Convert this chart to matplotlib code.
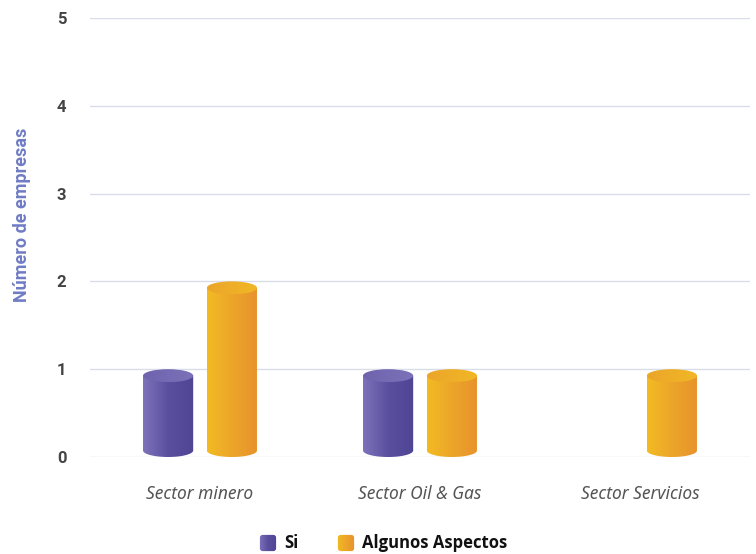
import numpy as np
import matplotlib.pyplot as plt
from matplotlib.patches import Ellipse, PathPatch, FancyBboxPatch
from matplotlib.path import Path
from matplotlib.colors import LinearSegmentedColormap

categories = ["Sector minero", "Sector Oil & Gas", "Sector Servicios"]
series_names = ["Si", "Algunos Aspectos"]
si = [1, 1, 0]
algunos = [2, 1, 1]
yticks = [0, 1, 2, 3, 4, 5]

purple = LinearSegmentedColormap.from_list("p", ["#7d72ba", "#5a4f9e", "#4f4595"])
orange = LinearSegmentedColormap.from_list("o", ["#f3bb22", "#eca52a", "#e8922c"])
purple_top = LinearSegmentedColormap.from_list("pt", ["#6e63ad", "#7c72b9"])
orange_top = LinearSegmentedColormap.from_list("ot", ["#eba52a", "#f1b826"])

fig = plt.figure(figsize=(7.56, 5.54), dpi=100)
W, H = 756, 554
ax = fig.add_axes([90 / W, (H - 457) / H, 660 / W, 439 / H])
ax.set_xlim(0, 3)
ax.set_ylim(0, 5)

for s in ax.spines.values():
    s.set_visible(False)
ax.set_yticks(yticks)
ax.tick_params(axis="y", length=0, pad=17, labelsize=12, labelcolor="#444444")
for t in ax.get_yticklabels():
    t.set_fontfamily("Roboto")
    t.set_fontweight("bold")
ax.set_xticks([0.5, 1.5, 2.5])
ax.set_xticklabels(categories, fontsize=12.5, style="italic", color="#555555",
                   family="Noto Sans", fontweight="medium")
ax.tick_params(axis="x", length=0, pad=20)
ax.grid(axis="y", color="#d9dde9", linewidth=1)
ax.set_axisbelow(True)

bw = 0.228
off = 0.145
ry = 0.074
grad = np.linspace(0, 1, 256).reshape(1, -1)


def cylinder(xc, val, cmap, cmap_top):
    if val <= 0:
        return
    x0, x1 = xc - bw / 2, xc + bw / 2
    y0, y1 = ry, val - ry
    t = np.linspace(np.pi, 2 * np.pi, 60)
    bottom = np.column_stack([xc + bw / 2 * np.cos(t), y0 + ry * np.sin(t)])
    verts = np.vstack([[x0, y1], bottom, [x1, y1], [x0, y1]])
    body = PathPatch(Path(verts), facecolor="none", edgecolor="none")
    ax.add_patch(body)
    im = ax.imshow(grad, cmap=cmap, extent=[x0, x1, 0, y1], aspect="auto",
                   zorder=3)
    im.set_clip_path(body)
    top = Ellipse((xc, y1), bw, 2 * ry, facecolor="none", edgecolor="none")
    ax.add_patch(top)
    im2 = ax.imshow(grad, cmap=cmap_top, extent=[x0, x1, y1 - ry, y1 + ry],
                    aspect="auto", zorder=4)
    im2.set_clip_path(top)


for i in range(len(categories)):
    cylinder(i + 0.5 - off, si[i], purple, purple_top)
    cylinder(i + 0.5 + off, algunos[i], orange, orange_top)

ax.set_xlim(0, 3)
ax.set_ylim(0, 5)

fig.text(22 / W, 1 - 215 / H, "Número de empresas", rotation=90,
         ha="center", va="center", fontsize=13, fontweight="bold",
         color="#6f7cc4", family="Roboto")

# legend
for x, cmap, label in [(259, purple, series_names[0]), (337, orange, series_names[1])]:
    lax = fig.add_axes([x / W, (H - 552) / H, 18 / W, 18 / H])
    lax.set_axis_off()
    lax.set_xlim(0, 1)
    lax.set_ylim(0, 1)
    box = FancyBboxPatch((0.05, 0.05), 0.9, 0.9, boxstyle="round,pad=0,rounding_size=0.15",
                         facecolor="none", edgecolor="none")
    lax.add_patch(box)
    im = lax.imshow(grad, cmap=cmap, extent=[0, 1, 0, 1], aspect="auto")
    im.set_clip_path(box)
    fig.text((x + 25) / W, 1 - 543 / H, label, ha="left", va="center",
             fontsize=12, fontweight="bold", color="#111111", family="Open Sans")

fig.savefig("out.png", dpi=100)
